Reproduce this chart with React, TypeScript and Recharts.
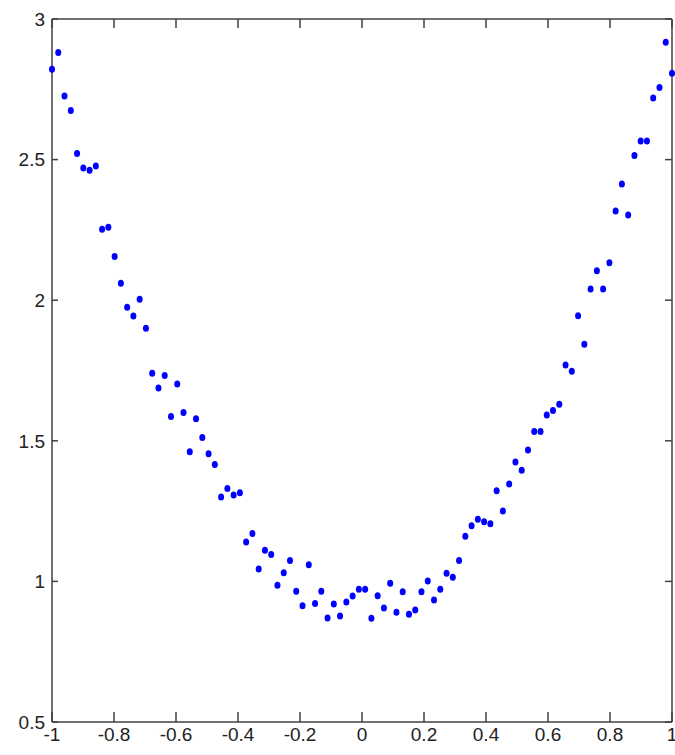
import React from 'react';
import { ScatterChart, Scatter, XAxis, YAxis, ReferenceLine } from 'recharts';

// x sample positions (100 evenly spaced points on [-1, 1])
const xValues = [
  -1.0, -0.9798, -0.9596, -0.9394, -0.9192, -0.899, -0.8788, -0.8586, -0.8384, -0.8182,
  -0.798, -0.7778, -0.7576, -0.7374, -0.7172, -0.697, -0.6768, -0.6566, -0.6364, -0.6162,
  -0.596, -0.5758, -0.5556, -0.5354, -0.5152, -0.4949, -0.4747, -0.4545, -0.4343, -0.4141,
  -0.3939, -0.3737, -0.3535, -0.3333, -0.3131, -0.2929, -0.2727, -0.2525, -0.2323, -0.2121,
  -0.1919, -0.1717, -0.1515, -0.1313, -0.1111, -0.0909, -0.0707, -0.0505, -0.0303, -0.0101,
  0.0101, 0.0303, 0.0505, 0.0707, 0.0909, 0.1111, 0.1313, 0.1515, 0.1717, 0.1919,
  0.2121, 0.2323, 0.2525, 0.2727, 0.2929, 0.3131, 0.3333, 0.3535, 0.3737, 0.3939,
  0.4141, 0.4343, 0.4545, 0.4747, 0.4949, 0.5152, 0.5354, 0.5556, 0.5758, 0.596,
  0.6162, 0.6364, 0.6566, 0.6768, 0.697, 0.7172, 0.7374, 0.7576, 0.7778, 0.798,
  0.8182, 0.8384, 0.8586, 0.8788, 0.899, 0.9192, 0.9394, 0.9596, 0.9798, 1.0,
];

const yValues = [
  2.821, 2.881, 2.726, 2.675, 2.522, 2.47, 2.462, 2.477, 2.252, 2.259,
  2.155, 2.06, 1.975, 1.944, 2.003, 1.9, 1.74, 1.688, 1.732, 1.586,
  1.702, 1.601, 1.461, 1.578, 1.512, 1.454, 1.416, 1.3, 1.33, 1.307,
  1.315, 1.14, 1.17, 1.044, 1.111, 1.096, 0.986, 1.031, 1.074, 0.965,
  0.913, 1.059, 0.921, 0.965, 0.87, 0.92, 0.877, 0.927, 0.948, 0.972,
  0.972, 0.869, 0.949, 0.905, 0.993, 0.89, 0.963, 0.883, 0.898, 0.963,
  1.001, 0.934, 0.972, 1.029, 1.015, 1.074, 1.161, 1.198, 1.221, 1.212,
  1.205, 1.322, 1.25, 1.346, 1.425, 1.395, 1.467, 1.533, 1.533, 1.592,
  1.608, 1.63, 1.77, 1.747, 1.945, 1.843, 2.04, 2.105, 2.04, 2.133,
  2.317, 2.413, 2.303, 2.515, 2.566, 2.566, 2.719, 2.756, 2.917, 2.807,
];

const xTicks = [-1, -0.8, -0.6, -0.4, -0.2, 0, 0.2, 0.4, 0.6, 0.8, 1];
const yTicks = [0.5, 1, 1.5, 2, 2.5, 3];

const points = xValues.map((x, i) => ({ x, y: yValues[i] }));

const W = 675;
const H = 755;
const MARGIN = { top: 19, right: 3, bottom: 0, left: 0 };
const X_AXIS_H = 33;
const Y_AXIS_W = 52;
// plot box edges, derived from the layout above
const PLOT_TOP = MARGIN.top;
const PLOT_BOTTOM = H - MARGIN.bottom - X_AXIS_H;
const PLOT_LEFT = MARGIN.left + Y_AXIS_W;
const PLOT_RIGHT = W - MARGIN.right;

const FRAME = '#404040';
const FONT = 'Liberation Sans, Arial, sans-serif';

// x tick: inward tick marks on bottom and top edges plus label
const XTick = ({ x, payload }: any) => (
  <g>
    <line x1={x} x2={x} y1={PLOT_BOTTOM} y2={PLOT_BOTTOM - 10} stroke={FRAME} strokeWidth={1.5} />
    <line x1={x} x2={x} y1={PLOT_TOP} y2={PLOT_TOP + 9} stroke={FRAME} strokeWidth={1.5} />
    <text x={x} y={PLOT_BOTTOM + 6} dy="0.71em" textAnchor="middle" fontSize={19} fontFamily={FONT} fill="#222">
      {String(payload.value)}
    </text>
  </g>
);

// y tick: inward tick marks on left and right edges plus label
const YTick = ({ y, payload }: any) => (
  <g>
    <line x1={PLOT_LEFT} x2={PLOT_LEFT + 6} y1={y} y2={y} stroke={FRAME} strokeWidth={1.5} />
    <line x1={PLOT_RIGHT} x2={PLOT_RIGHT - 7} y1={y} y2={y} stroke={FRAME} strokeWidth={1.5} />
    <text x={PLOT_LEFT - 7} y={y} dy="0.36em" textAnchor="end" fontSize={19} fontFamily={FONT} fill="#222">
      {String(payload.value)}
    </text>
  </g>
);

const Dot = (props: any) => (
  <ellipse cx={props.cx} cy={props.cy} rx={3} ry={3.5} fill="#0000ff" />
);

export default function App() {
  return (
    <div style={{ position: 'absolute', left: 0, top: 0, background: '#fff' }}>
      <ScatterChart width={W} height={H} margin={MARGIN}>
        <XAxis
          type="number"
          dataKey="x"
          domain={[-1, 1]}
          ticks={xTicks}
          height={X_AXIS_H}
          tickLine={false}
          stroke={FRAME}
          strokeWidth={1.5}
          tick={<XTick />}
          interval={0}
        />
        <YAxis
          type="number"
          dataKey="y"
          domain={[0.5, 3]}
          ticks={yTicks}
          width={Y_AXIS_W}
          tickLine={false}
          stroke={FRAME}
          strokeWidth={1.5}
          tick={<YTick />}
          interval={0}
        />
        <ReferenceLine y={3} stroke={FRAME} strokeWidth={1.5} />
        <ReferenceLine x={1} stroke={FRAME} strokeWidth={1.5} />
        <Scatter data={points} shape={Dot} isAnimationActive={false} />
      </ScatterChart>
    </div>
  );
}
